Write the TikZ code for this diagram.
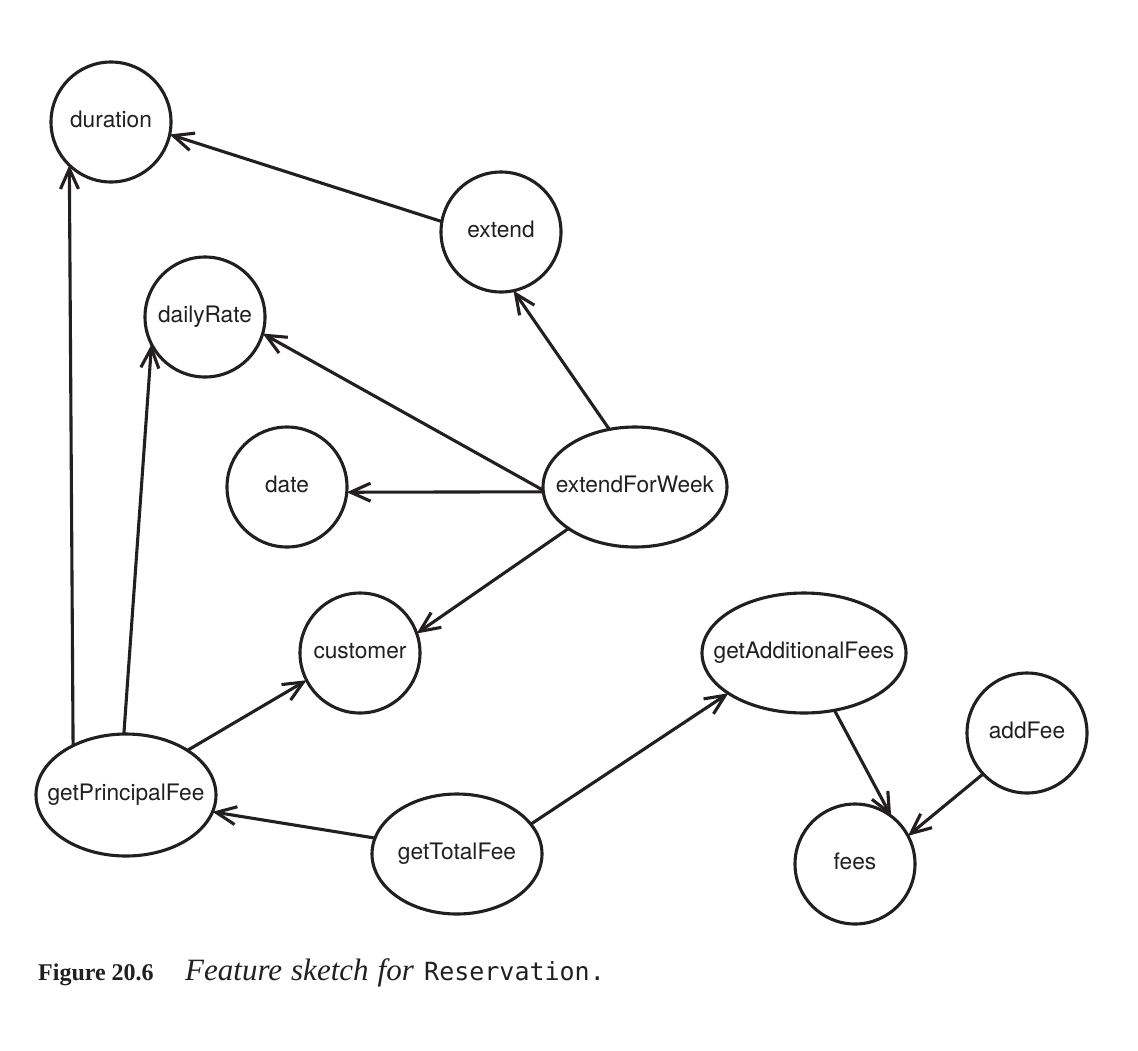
\documentclass[tikz,border=0pt]{standalone}
\usepackage{fontspec}
\setmainfont{TeX Gyre Heros}
\newfontfamily\capserif{Liberation Serif}
\newfontfamily\capmono{DejaVu Sans Mono}
\usetikzlibrary{shapes.geometric,arrows.meta}
\definecolor{ink}{RGB}{35,31,32}
\newcommand\lbltext[1]{\makebox[0pt][c]{#1}}
\begin{document}
\begin{tikzpicture}[x=1pt,y=-1pt,
  lbl/.style={font=\fontsize{22.7}{27}\selectfont, text=ink, text height=16pt, text depth=4.5pt},
  circ/.style={lbl, draw=ink, circle, line width=3.1pt, minimum size=120pt, inner sep=0pt, outer sep=0pt},
  ell/.style={lbl, draw=ink, ellipse, line width=3.1pt, inner sep=0pt, outer sep=0pt},
  conn/.style={draw=ink, line width=3.1pt, -{Straight Barb[length=20pt,width=18pt]}},
  captext/.style={anchor=base west, inner sep=0pt, text=ink}
]
\useasboundingbox (0,0) rectangle (1138,1050);
\fill[white] (0,0) rectangle (1138,1050);
% nodes
\node[circ] (duration) at (111,122) {duration};
\node[circ] (extend) at (501,232) {extend};
\node[circ] (dailyRate) at (205,317) {dailyRate};
\node[circ] (date) at (287,487) {date};
\node[ell, minimum width=184pt, minimum height=120pt] (efw) at (635,487) {\lbltext{extendForWeek}};
\node[circ] (customer) at (360,653) {customer};
\node[ell, minimum width=204pt, minimum height=120pt] (gaf) at (804,653) {\lbltext{getAdditionalFees}};
\node[circ] (addFee) at (1027,733) {addFee};
\node[ell, minimum width=180pt, minimum height=122pt] (gpf) at (126,795) {\lbltext{getPrincipalFee}};
\node[ell, minimum width=170pt, minimum height=120pt] (gtf) at (457,854) {\lbltext{getTotalFee}};
\node[circ] (fees) at (855,864) {fees};
% connectors
\draw[conn] (extend.170.5) -- (duration.-12);
\draw[conn] (gpf.137.2) -- (duration.226.3);
\draw[conn] (gpf.92.8) -- (dailyRate.207.8);
\draw[conn] (gpf.36.4) -- (customer.207.4);
\draw[conn] (gtf.169.6) -- (gpf.-11);
\draw[conn] (gtf.22.5) -- (gaf.208.6);
\draw[conn] (efw.114.1) -- (extend.-78.9);
\draw[conn] (efw.182.5) -- (dailyRate.-16.3);
\draw[conn] (efw.183.8) -- (date.-5.7);
\draw[conn] (efw.212.3) -- (customer.19.3);
\draw[conn] (gaf.-62.3) -- (fees.53.7);
\draw[conn] (addFee.223.7) -- (fees.28.2);
% caption
\node[captext, font=\capserif\bfseries\fontsize{24}{30}\selectfont] (fig) at (38,980) {Figure 20.6};
\node[captext, font=\capserif\itshape\fontsize{31}{34}\selectfont] (cap) at (185,980) {Feature\hspace{9pt}sketch\hspace{9pt}for};
\node[captext, font=\capmono\fontsize{25}{30}\selectfont] (capcls) at (cap.base east) [xshift=10pt] {Reservation.};
\end{tikzpicture}
\end{document}
